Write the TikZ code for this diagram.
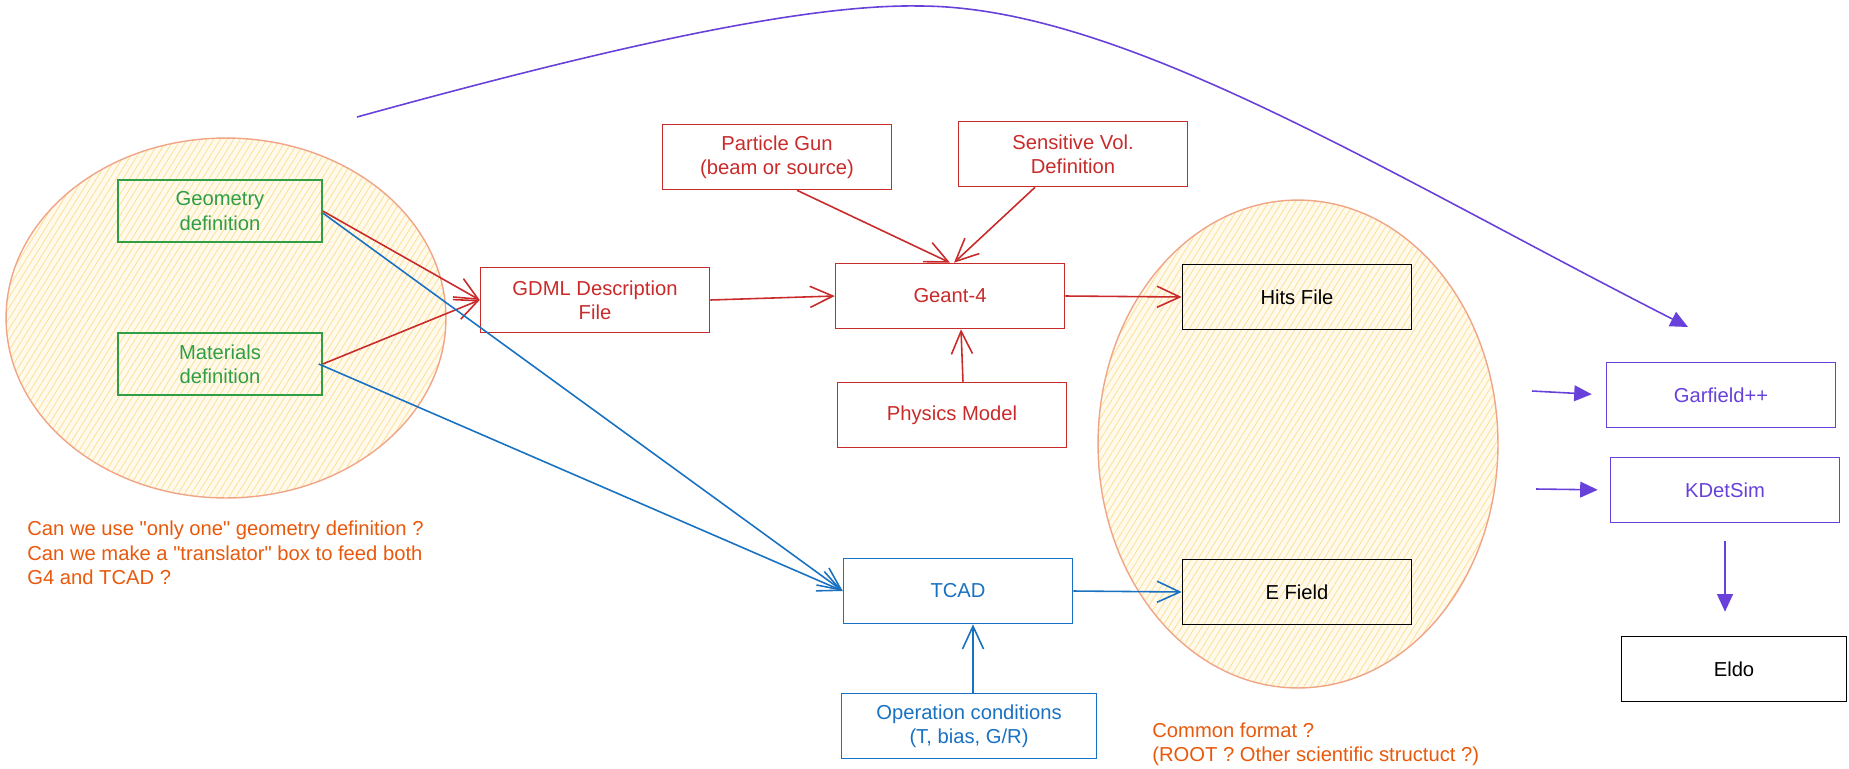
\documentclass[tikz,border=0pt]{standalone}
\usepackage{fontspec}
\setmainfont{Liberation Sans}
\usetikzlibrary{arrows.meta,patterns.meta}

\definecolor{geomgreen}{RGB}{47,158,68}
\definecolor{geantred}{RGB}{201,42,42}
\definecolor{tcadblue}{RGB}{25,113,194}
\definecolor{simviolet}{RGB}{103,65,217}
\definecolor{noteorange}{RGB}{232,89,12}
\definecolor{blobline}{RGB}{240,165,135}
\definecolor{blobhatch}{RGB}{252,224,150}
\definecolor{blobfill}{RGB}{255,250,236}

\begin{document}
\begin{tikzpicture}[x=0.02cm, y=-0.02cm, font=\fontsize{11.5}{13.9}\selectfont]

    \tikzset{boxstyle/.style={draw, rectangle, line width=0.9pt, minimum width=4.58cm, minimum height=1.3cm, align=center, inner sep=2pt}}
    \tikzset{geombox/.style={boxstyle, draw=geomgreen, text=geomgreen, minimum width=4.08cm, minimum height=1.25cm}}
    \tikzset{geantbox/.style={boxstyle, draw=geantred, text=geantred}}
    \tikzset{tcadbox/.style={boxstyle, draw=tcadblue, text=tcadblue}}
    \tikzset{simbox/.style={boxstyle, draw=simviolet, text=simviolet}}
    \tikzset{filebox/.style={boxstyle, draw=black, text=black}}
    \tikzset{notestyle/.style={text=noteorange, align=left, anchor=west, inner sep=0pt}}
    \tikzset{blobstyle/.style={draw=blobline, line width=0.8pt, preaction={fill=blobfill}, pattern={Lines[angle=58,distance=3.2pt,line width=0.45pt]}, pattern color=blobhatch}}
    \tikzset{openarrow/.style={-{Straight Barb[length=13pt,width=12pt]}, line width=0.9pt}}
    \tikzset{filledarrow/.style={-{Triangle[length=10pt,width=9pt]}, line width=0.9pt, draw=simviolet}}

    \useasboundingbox (0,0) rectangle (1849,768);

    % hatched groups
    \draw[blobstyle] (226,318) ellipse [x radius=4.4cm, y radius=3.6cm];
    \draw[blobstyle] (1298,444) ellipse [x radius=4cm, y radius=4.88cm];

    \node[geombox] (geom) at (220,211) {Geometry\\definition};
    \node[geombox] (mat) at (220,364) {Materials\\definition};

    \node[geantbox] (gdml) at (595,300) {GDML Description\\File};
    \node[geantbox] (gun) at (777,157) {Particle Gun\\(beam or source)};
    \node[geantbox] (sens) at (1073,154) {Sensitive Vol.\\Definition};
    \node[geantbox] (geant) at (950,296) {Geant-4};
    \node[geantbox] (phys) at (952,415) {Physics Model};

    \node[tcadbox] (tcad) at (958,591) {TCAD};
    \node[tcadbox, minimum width=5.1cm] (opcond) at (969,726) {Operation conditions\\(T, bias, G/R)};

    \node[filebox] (hits) at (1297,297) {Hits File};
    \node[filebox] (efield) at (1297,592) {E Field};

    \node[simbox] (garf) at (1721,395) {Garfield++};
    \node[simbox] (kdet) at (1725,490) {KDetSim};
    \node[filebox, minimum width=4.5cm] (eldo) at (1734,669) {Eldo};

    \node[notestyle] (q1) at (27,553) {Can we use \textquotedbl only one\textquotedbl\ geometry definition ?\\Can we make a \textquotedbl translator\textquotedbl\ box to feed both\\G4 and TCAD ?};
    \node[notestyle] (q2) at (1152,744) {Common format ?\\(ROOT ? Other scientific structuct ?)};

    \begin{scope}[every path/.style={openarrow, draw=geantred}]
        \draw (geom.east) -- (gdml.west);
        \draw (mat.east) -- (gdml.west);
        \draw (gdml.east) -- (geant.west);
        \draw ([xshift=0.4cm]gun.south) -- (geant.north);
        \draw ([xshift=-0.76cm]sens.south) -- ([xshift=0.08cm]geant.north);
        \draw ([xshift=0.22cm]phys.north) -- ([xshift=0.22cm]geant.south);
        \draw (geant.east) -- (hits.west);
    \end{scope}

    \begin{scope}[every path/.style={openarrow, draw=tcadblue}]
        \draw ([yshift=-0.04cm]geom.east) -- (tcad.west);
        \draw ([xshift=-0.08cm]mat.east) -- (tcad.west);
        \draw (tcad.east) -- (efield.west);
        \draw ([xshift=0.08cm]opcond.north) -- ([xshift=0.08cm]opcond.north |- tcad.south);
    \end{scope}

    \coordinate (hopstart) at (357,117);
    \coordinate (hopend) at (1688,327);
    \coordinate (garfin) at (1532,391);
    \coordinate (kdetin) at (1536,489);

    \draw[filledarrow] (hopstart) .. controls (600,50) and (800,4) .. (919,6)
        .. controls (1120,6) and (1380,170) .. (hopend);
    \draw[filledarrow, shorten >=0.28cm] (garfin) -- (garf.west);
    \draw[filledarrow, shorten >=0.24cm] (kdetin) -- (kdet.west);
    \draw[filledarrow, shorten <=0.36cm, shorten >=0.48cm] (kdet.south) -- (kdet.south |- eldo.north);
\end{tikzpicture}
\end{document}
